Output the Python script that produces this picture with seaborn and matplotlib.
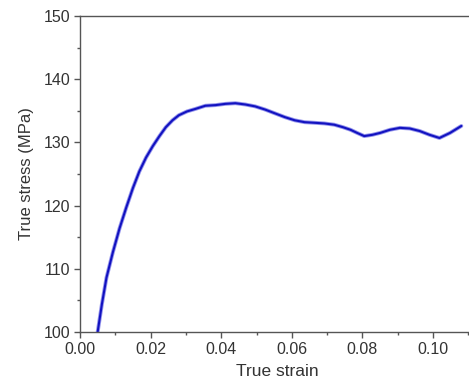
import matplotlib
matplotlib.use("Agg")
import matplotlib.pyplot as plt
import seaborn as sns
import pandas as pd
from matplotlib.ticker import MultipleLocator

strain = [0.0050, 0.0062, 0.0075, 0.0093, 0.0112, 0.0131, 0.0150, 0.0168, 0.0187,
          0.0206, 0.0225, 0.0243, 0.0262, 0.0280, 0.0303, 0.0327, 0.0355, 0.0384,
          0.0412, 0.0440, 0.0468, 0.0496, 0.0524, 0.0552, 0.0580, 0.0608, 0.0636,
          0.0665, 0.0692, 0.0720, 0.0745, 0.0766, 0.0785, 0.0805, 0.0828, 0.0850,
          0.0878, 0.0906, 0.0934, 0.0962, 0.0990, 0.1018, 0.1048, 0.1080]
stress = [100.0, 104.4, 108.6, 112.6, 116.4, 119.7, 122.8, 125.4, 127.6,
          129.4, 131.0, 132.4, 133.5, 134.3, 134.9, 135.3, 135.8, 135.9,
          136.1, 136.2, 136.0, 135.7, 135.2, 134.6, 134.0, 133.5, 133.2,
          133.1, 133.0, 132.8, 132.4, 132.0, 131.5, 131.0, 131.2, 131.5,
          132.0, 132.3, 132.2, 131.8, 131.2, 130.7, 131.5, 132.6]

df = pd.DataFrame({"strain": strain, "stress": stress})

sns.set_theme(style="ticks")
plt.rcParams['font.family'] = ['Liberation Sans', 'DejaVu Sans']

fig = plt.figure(figsize=(4.69, 3.92), dpi=100)
ax = fig.add_axes([80/469, 1-332/392, (469-80)/469 + 0.01, (332-16)/392])

sns.lineplot(data=df, x="strain", y="stress", ax=ax, color="#7a7ae8",
             linewidth=2.8, estimator=None, sort=False, alpha=0.8)
sns.lineplot(data=df, x="strain", y="stress", ax=ax, color="#1212c0",
             linewidth=1.5, estimator=None, sort=False)

ax.set_xlim(0, 0.1115)
ax.set_ylim(100, 150)
ax.xaxis.set_major_locator(MultipleLocator(0.02))
ax.xaxis.set_minor_locator(MultipleLocator(0.01))
ax.yaxis.set_major_locator(MultipleLocator(10))
ax.yaxis.set_minor_locator(MultipleLocator(5))
ax.set_xticklabels([f"{v:.2f}" for v in ax.get_xticks()])

edge = "#555555"
for s in ["left", "bottom", "top", "right"]:
    ax.spines[s].set_color(edge)
    ax.spines[s].set_linewidth(1.0)
ax.tick_params(which="major", direction="out", length=4, width=1.0, color=edge,
               labelsize=11.5, labelcolor="#333333", pad=3)
ax.tick_params(which="minor", direction="out", length=2.5, width=1.0, color=edge)
ax.tick_params(top=False, right=False, which="both")

ax.set_xlabel("True strain", fontsize=12.5, color="#333333", labelpad=5)
ax.set_ylabel("True stress (MPa)", fontsize=12, color="#333333", labelpad=7)

fig.savefig("out.png", dpi=100)
